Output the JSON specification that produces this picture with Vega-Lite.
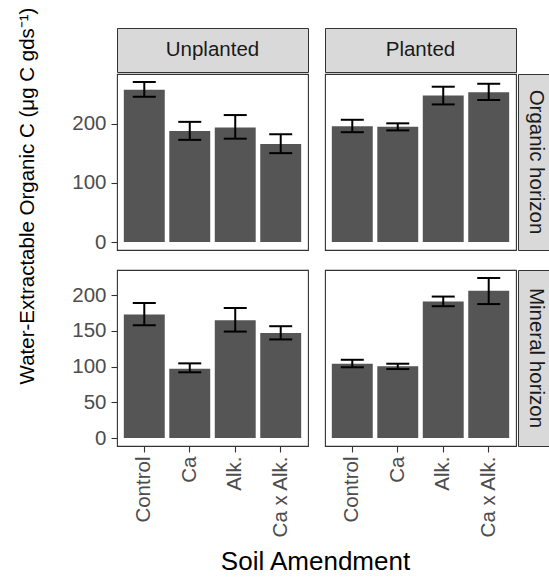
{
  "$schema": "https://vega.github.io/schema/vega-lite/v6.json",
  "padding": {"left": 0, "top": 7, "right": 0, "bottom": 0},
  "background": "white",
  "config": {
    "font": "Liberation Sans",
    "view": {"stroke": "#333333", "strokeWidth": 1.1},
    "axis": {"grid": false, "labelFont": "Liberation Sans", "labelFontSize": 20.5, "labelColor": "#4d4d4d", "tickColor": "#333333", "tickSize": 6, "tickWidth": 1.1, "domain": false, "title": null}
  },
  "datasets": {
    "d": [
      {"planting": "Unplanted", "horizon": "Organic horizon", "amendment": "Control", "mean": 258, "lo": 246, "hi": 271},
      {"planting": "Unplanted", "horizon": "Organic horizon", "amendment": "Ca", "mean": 188, "lo": 173, "hi": 203.5},
      {"planting": "Unplanted", "horizon": "Organic horizon", "amendment": "Alk.", "mean": 194, "lo": 175, "hi": 215},
      {"planting": "Unplanted", "horizon": "Organic horizon", "amendment": "Ca x Alk.", "mean": 166, "lo": 150.5, "hi": 182.5},
      {"planting": "Planted", "horizon": "Organic horizon", "amendment": "Control", "mean": 196, "lo": 186, "hi": 207},
      {"planting": "Planted", "horizon": "Organic horizon", "amendment": "Ca", "mean": 195, "lo": 189, "hi": 201},
      {"planting": "Planted", "horizon": "Organic horizon", "amendment": "Alk.", "mean": 248, "lo": 233, "hi": 263},
      {"planting": "Planted", "horizon": "Organic horizon", "amendment": "Ca x Alk.", "mean": 253.5, "lo": 240.5, "hi": 268},
      {"planting": "Unplanted", "horizon": "Mineral horizon", "amendment": "Control", "mean": 173, "lo": 158, "hi": 189},
      {"planting": "Unplanted", "horizon": "Mineral horizon", "amendment": "Ca", "mean": 97, "lo": 92, "hi": 104.5},
      {"planting": "Unplanted", "horizon": "Mineral horizon", "amendment": "Alk.", "mean": 165, "lo": 149, "hi": 182},
      {"planting": "Unplanted", "horizon": "Mineral horizon", "amendment": "Ca x Alk.", "mean": 147, "lo": 138, "hi": 156.5},
      {"planting": "Planted", "horizon": "Mineral horizon", "amendment": "Control", "mean": 104, "lo": 99, "hi": 109.5},
      {"planting": "Planted", "horizon": "Mineral horizon", "amendment": "Ca", "mean": 100.5, "lo": 96.5, "hi": 104},
      {"planting": "Planted", "horizon": "Mineral horizon", "amendment": "Alk.", "mean": 191, "lo": 184.5, "hi": 198},
      {"planting": "Planted", "horizon": "Mineral horizon", "amendment": "Ca x Alk.", "mean": 206, "lo": 187.5, "hi": 224}
    ]
  },
  "spacing": 15,
  "hconcat": [
    {
      "width": 56, "height": 336,
      "data": {"values": [{"label": "Water-Extractable Organic C (μg C gds⁻¹)"}]},
      "mark": {"type": "text", "angle": 270, "fontSize": 20.5, "color": "#000000", "font": "Liberation Sans"},
      "encoding": {"text": {"field": "label"}},
      "view": {"stroke": null}
    },
    {
      "spacing": 0,
      "vconcat": [
        {
          "spacing": 15,
          "hconcat": [
            {
              "width": 191, "height": 44,
              "data": {"values": [{"label": "Unplanted"}]},
              "mark": {"type": "text", "fontSize": 20.5, "color": "#1a1a1a"},
              "encoding": {"text": {"field": "label"}},
              "view": {"fill": "#d9d9d9", "stroke": "#333333"}
            },
            {
              "width": 191, "height": 44,
              "data": {"values": [{"label": "Planted"}]},
              "mark": {"type": "text", "fontSize": 20.5, "color": "#1a1a1a"},
              "encoding": {"text": {"field": "label"}},
              "view": {"fill": "#d9d9d9", "stroke": "#333333"}
            }
          ]
        },
        {
          "spacing": 15,
          "vconcat": [
            {
              "spacing": 15,
              "hconcat": [
                {
                  "width": 191, "height": 176,
                  "data": {"name": "d"},
                  "transform": [{"filter": "datum.planting == 'Unplanted' && datum.horizon == 'Organic horizon'"}],
                  "encoding": {"x": {"field": "amendment", "type": "nominal", "sort": ["Control", "Ca", "Alk.", "Ca x Alk."], "scale": {"paddingInner": 0.1, "paddingOuter": 0.15}, "axis": null}},
                  "layer": [
                    {"mark": {"type": "bar", "color": "#555555"}, "encoding": {"y": {"field": "mean", "type": "quantitative", "title": null, "scale": {"domain": [-13.55, 284.55], "nice": false, "zero": false}, "axis": {"values": [0, 100, 200], "labelPadding": 5}}, "y2": {"datum": 0}}},
                    {"mark": {"type": "rule", "color": "#000000", "strokeWidth": 2}, "encoding": {"y": {"field": "lo", "type": "quantitative", "title": null}, "y2": {"field": "hi"}}},
                    {"mark": {"type": "tick", "color": "#000000", "thickness": 2, "size": 23, "opacity": 1}, "encoding": {"y": {"field": "lo", "type": "quantitative", "title": null}}},
                    {"mark": {"type": "tick", "color": "#000000", "thickness": 2, "size": 23, "opacity": 1}, "encoding": {"y": {"field": "hi", "type": "quantitative", "title": null}}}
                  ]
                },
                {
                  "spacing": 0,
                  "hconcat": [
                    {
                      "width": 191, "height": 176,
                      "data": {"name": "d"},
                      "transform": [{"filter": "datum.planting == 'Planted' && datum.horizon == 'Organic horizon'"}],
                      "encoding": {"x": {"field": "amendment", "type": "nominal", "sort": ["Control", "Ca", "Alk.", "Ca x Alk."], "scale": {"paddingInner": 0.1, "paddingOuter": 0.15}, "axis": null}},
                      "layer": [
                        {"mark": {"type": "bar", "color": "#555555"}, "encoding": {"y": {"field": "mean", "type": "quantitative", "title": null, "scale": {"domain": [-13.55, 284.55], "nice": false, "zero": false}, "axis": null}, "y2": {"datum": 0}}},
                        {"mark": {"type": "rule", "color": "#000000", "strokeWidth": 2}, "encoding": {"y": {"field": "lo", "type": "quantitative", "title": null, "axis": null}, "y2": {"field": "hi"}}},
                        {"mark": {"type": "tick", "color": "#000000", "thickness": 2, "size": 23, "opacity": 1}, "encoding": {"y": {"field": "lo", "type": "quantitative", "title": null, "axis": null}}},
                        {"mark": {"type": "tick", "color": "#000000", "thickness": 2, "size": 23, "opacity": 1}, "encoding": {"y": {"field": "hi", "type": "quantitative", "title": null, "axis": null}}}
                      ]
                    },
                    {
                      "width": 35, "height": 176,
                      "data": {"values": [{"label": "Organic horizon"}]},
                      "mark": {"type": "text", "angle": 90, "fontSize": 20.5, "color": "#1a1a1a"},
                      "encoding": {"text": {"field": "label"}},
                      "view": {"fill": "#d9d9d9", "stroke": "#333333"}
                    }
                  ]
                }
              ]
            },
            {
              "spacing": 15,
              "hconcat": [
                {
                  "width": 191, "height": 176,
                  "data": {"name": "d"},
                  "transform": [{"filter": "datum.planting == 'Unplanted' && datum.horizon == 'Mineral horizon'"}],
                  "encoding": {"x": {"field": "amendment", "type": "nominal", "sort": ["Control", "Ca", "Alk.", "Ca x Alk."], "scale": {"paddingInner": 0.1, "paddingOuter": 0.15}, "axis": {"labelAngle": 270, "labelPadding": 4}}},
                  "layer": [
                    {"mark": {"type": "bar", "color": "#555555"}, "encoding": {"y": {"field": "mean", "type": "quantitative", "title": null, "scale": {"domain": [-11.2, 235.2], "nice": false, "zero": false}, "axis": {"values": [0, 50, 100, 150, 200], "labelPadding": 5}}, "y2": {"datum": 0}}},
                    {"mark": {"type": "rule", "color": "#000000", "strokeWidth": 2}, "encoding": {"y": {"field": "lo", "type": "quantitative", "title": null}, "y2": {"field": "hi"}}},
                    {"mark": {"type": "tick", "color": "#000000", "thickness": 2, "size": 23, "opacity": 1}, "encoding": {"y": {"field": "lo", "type": "quantitative", "title": null}}},
                    {"mark": {"type": "tick", "color": "#000000", "thickness": 2, "size": 23, "opacity": 1}, "encoding": {"y": {"field": "hi", "type": "quantitative", "title": null}}}
                  ]
                },
                {
                  "spacing": 0,
                  "hconcat": [
                    {
                      "width": 191, "height": 176,
                      "data": {"name": "d"},
                      "transform": [{"filter": "datum.planting == 'Planted' && datum.horizon == 'Mineral horizon'"}],
                      "encoding": {"x": {"field": "amendment", "type": "nominal", "sort": ["Control", "Ca", "Alk.", "Ca x Alk."], "scale": {"paddingInner": 0.1, "paddingOuter": 0.15}, "axis": {"labelAngle": 270, "labelPadding": 4}}},
                      "layer": [
                        {"mark": {"type": "bar", "color": "#555555"}, "encoding": {"y": {"field": "mean", "type": "quantitative", "title": null, "scale": {"domain": [-11.2, 235.2], "nice": false, "zero": false}, "axis": null}, "y2": {"datum": 0}}},
                        {"mark": {"type": "rule", "color": "#000000", "strokeWidth": 2}, "encoding": {"y": {"field": "lo", "type": "quantitative", "title": null, "axis": null}, "y2": {"field": "hi"}}},
                        {"mark": {"type": "tick", "color": "#000000", "thickness": 2, "size": 23, "opacity": 1}, "encoding": {"y": {"field": "lo", "type": "quantitative", "title": null, "axis": null}}},
                        {"mark": {"type": "tick", "color": "#000000", "thickness": 2, "size": 23, "opacity": 1}, "encoding": {"y": {"field": "hi", "type": "quantitative", "title": null, "axis": null}}}
                      ]
                    },
                    {
                      "width": 35, "height": 176,
                      "data": {"values": [{"label": "Mineral horizon"}]},
                      "mark": {"type": "text", "angle": 90, "fontSize": 20.5, "color": "#1a1a1a"},
                      "encoding": {"text": {"field": "label"}},
                      "view": {"fill": "#d9d9d9", "stroke": "#333333"}
                    }
                  ]
                }
              ]
            }
          ]
        },
        {
          "width": 397, "height": 46,
          "data": {"values": [{"label": "Soil Amendment"}]},
          "mark": {"type": "text", "fontSize": 26, "color": "#000000"},
          "encoding": {"text": {"field": "label"}},
          "view": {"stroke": null}
        }
      ]
    }
  ]
}
